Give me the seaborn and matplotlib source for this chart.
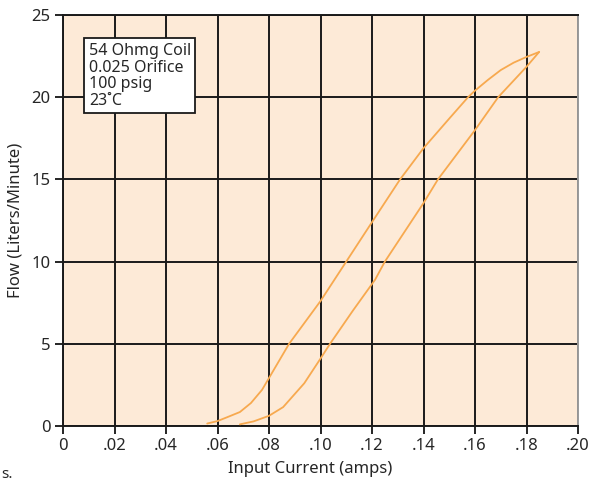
import numpy as np
import pandas as pd
import seaborn as sns
import matplotlib.pyplot as plt

# hysteresis loop
up_current = [0.056, 0.060, 0.064, 0.0687, 0.073, 0.0773, 0.0878, 0.100, 0.110, 0.120,
              0.1309, 0.140, 0.150, 0.1573, 0.160, 0.165, 0.170, 0.175, 0.180, 0.1849]
up_flow = [0.15, 0.3, 0.55, 0.85, 1.4, 2.2, 5.0, 7.6, 10.0, 12.4,
           15.0, 16.9, 18.7, 20.0, 20.4, 21.05, 21.65, 22.1, 22.45, 22.75]
down_current = [0.0687, 0.074, 0.080, 0.0855, 0.0937, 0.100, 0.1037, 0.1125, 0.1212,
                0.125, 0.140, 0.1456, 0.160, 0.169, 0.180, 0.1849]
down_flow = [0.1, 0.28, 0.62, 1.15, 2.6, 4.1, 5.0, 7.0, 8.9,
             10.0, 13.56, 15.0, 18.0, 20.0, 21.85, 22.75]

x_ticks = [0, 0.02, 0.04, 0.06, 0.08, 0.10, 0.12, 0.14, 0.16, 0.18, 0.20]
x_labels = ['0', '.02', '.04', '.06', '.08', '.10', '.12', '.14', '.16', '.18', '.20']
y_ticks = [0, 5, 10, 15, 20, 25]
info = "54 Ohmg Coil\n0.025 Orifice\n100 psig\n23\u02daC"

df = pd.concat([
    pd.DataFrame({'current': up_current, 'flow': up_flow, 'branch': 'up'}),
    pd.DataFrame({'current': down_current, 'flow': down_flow, 'branch': 'down'}),
])

sns.set_style('ticks')
plt.rcParams['font.family'] = ['Noto Sans', 'DejaVu Sans']

fig = plt.figure(figsize=(5.98, 4.82), dpi=100)
ax = fig.add_axes([63 / 598, 56 / 482, 515 / 598, 411 / 482])
ax.set_facecolor('#fdead7')

sns.lineplot(data=df, x='current', y='flow', hue='branch', units='branch',
             estimator=None, sort=False, palette=['#f7a94f', '#f7a94f'],
             linewidth=1.3, legend=False, ax=ax, zorder=3)

ax.set_xlim(0, 0.20)
ax.set_ylim(0, 25)
ax.set_xticks(x_ticks)
ax.set_xticklabels(x_labels)
ax.set_yticks(y_ticks)
ax.grid(True, color='#1a1a1a', linewidth=1.4)
ax.set_axisbelow(True)
ax.tick_params(direction='out', length=6, width=1.2, color='black',
               labelsize=12, pad=3)
for s in ['left', 'bottom', 'top']:
    ax.spines[s].set_color('#1a1a1a')
    ax.spines[s].set_linewidth(1.4)
ax.spines['right'].set_color('#999999')
ax.spines['right'].set_linewidth(1.4)

ax.set_xlabel('Input Current (amps)', fontsize=12, labelpad=3)
ax.xaxis.set_label_coords(0.48, -0.085)
ax.set_ylabel('Flow (Liters/Minute)', fontsize=12, labelpad=6)

ax.text(0.0100, 23.3, info, fontsize=11.5, va='top', ha='left', linespacing=1.05,
        bbox=dict(boxstyle='square,pad=0.28', facecolor='white',
                  edgecolor='#1a1a1a', linewidth=1.3), zorder=5)

fig.text(0.002, 0.008, 's.', fontsize=11)

fig.savefig('out.png', dpi=100)
